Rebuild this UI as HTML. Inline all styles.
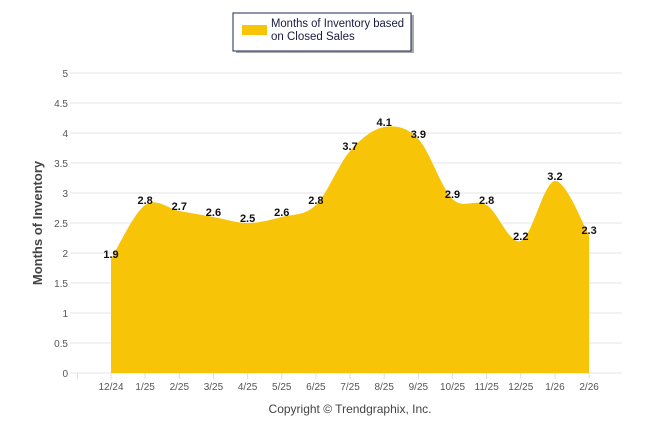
<!DOCTYPE html>
<html><head><meta charset="utf-8"><style>
body{margin:0;background:#fff;font-family:"Liberation Sans",Arial,sans-serif}
svg text{font-family:"Liberation Sans",Arial,sans-serif}
</style></head><body>
<svg id="c" width="646" height="434">
<g>
<rect x="236" y="15" width="178" height="38" fill="#555" opacity="0.5"/>
<rect x="233" y="13" width="178" height="38" fill="#fff" stroke="#1a2a5a" stroke-width="1"/>
<rect x="242" y="25" width="25" height="10" fill="#F7C408"/>
<text x="271" y="27" font-size="11.5" fill="#1a1a40" textLength="133" lengthAdjust="spacingAndGlyphs">Months of Inventory based</text>
<text x="271" y="40" font-size="11.5" fill="#1a1a40">on Closed Sales</text>
</g>
<g id="grid"></g>
<path id="area" fill="#F7C408"/>
<g id="labels"></g>
<text x="0" y="0" transform="translate(42,223) rotate(-90)" text-anchor="middle" font-size="13" font-weight="bold" fill="#444">Months of Inventory</text>
<text x="350" y="413" text-anchor="middle" font-size="12" fill="#444">Copyright © Trendgraphix, Inc.</text>
</svg>
<script>
const categories=["12/24","1/25","2/25","3/25","4/25","5/25","6/25","7/25","8/25","9/25","10/25","11/25","12/25","1/26","2/26"];
const values=[1.9,2.8,2.7,2.6,2.5,2.6,2.8,3.7,4.1,3.9,2.9,2.8,2.2,3.2,2.3];
const yTicks=[0,0.5,1,1.5,2,2.5,3,3.5,4,4.5,5];
const NS="http://www.w3.org/2000/svg";
const x=i=>111+i*34.15, y=v=>373-v*60;
const grid=document.getElementById('grid');
function el(t,a,p){const e=document.createElementNS(NS,t);for(const k in a)e.setAttribute(k,a[k]);p.appendChild(e);return e;}
yTicks.forEach(t=>{
 const l=el('line',{x1:70,x2:622,y1:y(t),y2:y(t),stroke:'#e6e6e6'},grid);
 
 
 const tx=el('text',{x:68,y:y(t)+4,'text-anchor':'end','font-size':'10',fill:'#555'},grid);tx.textContent=t;
 
 
});
el('line',{x1:77.5,x2:77.5,y1:373,y2:379,stroke:'#ddd'},grid);
categories.forEach((c,i)=>{
 el('line',{x1:x(i),x2:x(i),y1:373,y2:379,stroke:'#ddd'},grid);
 const tx=el('text',{x:x(i),y:390,'text-anchor':'middle','font-size':'10',fill:'#555'},grid);tx.textContent=c;
 
 
});
let d=`M${x(0)},${y(0)} L${x(0)},${y(values[0])}`;
const n=values.length, s=0.5;
for(let i=0;i<n-1;i++){
 const p0=[x(Math.max(i-1,0)),y(values[Math.max(i-1,0)])],p1=[x(i),y(values[i])],p2=[x(i+1),y(values[i+1])],p3=[x(Math.min(i+2,n-1)),y(values[Math.min(i+2,n-1)])];
 const c1=[p1[0]+(p2[0]-p0[0])*s/3,p1[1]+(p2[1]-p0[1])*s/3],c2=[p2[0]-(p3[0]-p1[0])*s/3,p2[1]-(p3[1]-p1[1])*s/3];
 d+=` C${c1[0]},${c1[1]} ${c2[0]},${c2[1]} ${p2[0]},${p2[1]}`;
}
d+=` L${x(n-1)},${y(0)} Z`;
document.getElementById('area').setAttribute('d',d);
const lab=document.getElementById('labels');
values.forEach((v,i)=>{
 const t=el('text',{x:x(i),y:y(v)-1,'text-anchor':'middle','font-size':'11','font-weight':'bold',fill:'#111'},lab);t.textContent=v.toFixed(1);
 
 
});
</script>
</body></html>
